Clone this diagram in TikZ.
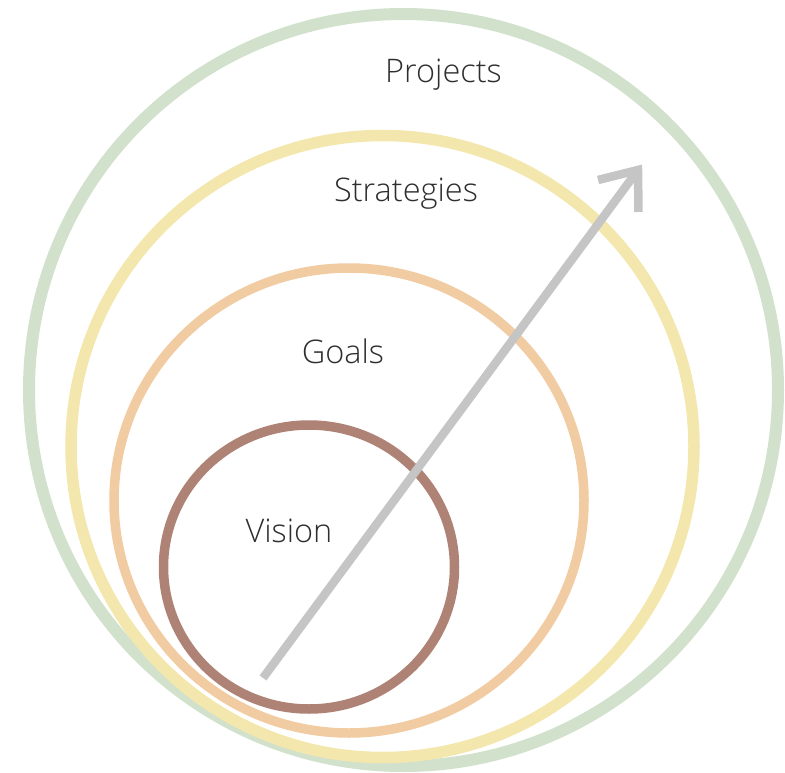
\documentclass[tikz,border=0pt]{standalone}
\usepackage{fontspec}
\setmainfont{Open Sans}[UprightFont={* Light}]
\begin{document}
\definecolor{ringgreen}{HTML}{D1E1CC}
\definecolor{ringyellow}{HTML}{F3E7AD}
\definecolor{ringorange}{HTML}{F1CBA1}
\definecolor{ringbrown}{HTML}{AE8376}
\definecolor{arrowgrey}{HTML}{C4C5C4}
\definecolor{labelgrey}{HTML}{2E2E2E}
\begin{tikzpicture}[x=1pt,y=-1pt,
  ring/.style={draw, fill=none},
  label/.style={text=labelgrey, font=\fontsize{32.5}{38}\selectfont, anchor=base, inner sep=0pt},
  growth/.style={draw=arrowgrey, line width=8.5pt, line join=miter, miter limit=10}]
  \useasboundingbox (0,0) rectangle (785,773);
  % nested rings, outermost first
  \draw[ring, draw=ringgreen, line width=12pt] (403.5,390) ellipse [x radius=374.5, y radius=376];
  \draw[ring, draw=ringyellow, line width=11.5pt] (382.5,446.5) ellipse [x radius=311.5, y radius=311];
  \draw[ring, draw=ringorange, line width=9.5pt] (349,500.5) ellipse [x radius=235, y radius=232.5];
  \draw[ring, draw=ringbrown, line width=9.5pt] (309,567) ellipse [x radius=145.5, y radius=142];
  % ring labels
  \node[label] (projects) at (443.5,83) {Projects};
  \node[label] (strategies) at (406,202) {Strategies};
  \node[label] (goals) at (343,363) {Goals};
  \node[label] (vision) at (289,542) {Vision};
  % growth arrow with an open head
  \coordinate (start) at (263,678);
  \coordinate (tip) at (638,170);
  \coordinate (barbleft) at (598,180);
  \coordinate (barbdown) at (638.5,212);
  \draw[growth] (start) -- (tip);
  \draw[growth] (barbleft) -- (tip) -- (barbdown);
\end{tikzpicture}
\end{document}
